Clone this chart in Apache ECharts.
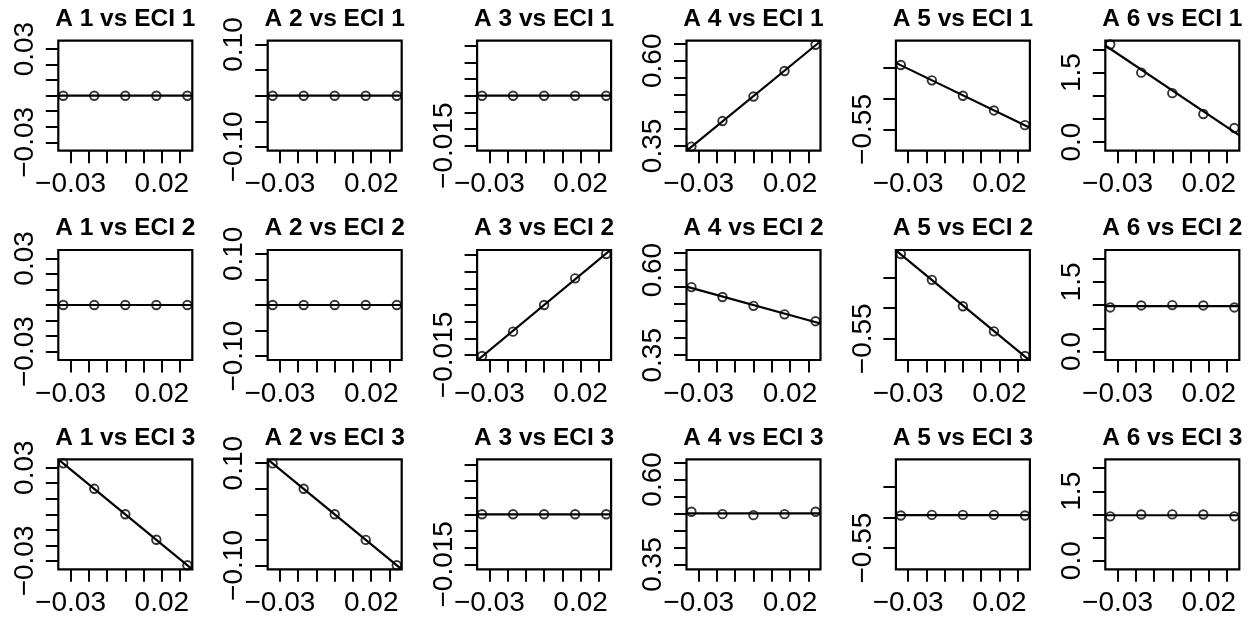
<!DOCTYPE html>
<html>
<head>
<meta charset="utf-8">
<script src="https://cdn.jsdelivr.net/npm/echarts@6/dist/echarts.min.js"></script>
<style>
html,body{margin:0;padding:0;background:#fff;}
#chart{width:1256px;height:620px;}
</style>
</head>
<body>
<div id="chart"></div>
<script>
// ---- data ----
const xValues = [-0.034, -0.017, 0, 0.017, 0.034];

const A1_ECI1 = [0, 0, 0, 0, 0];
const A1_ECI2 = [0, 0, 0, 0, 0];
const A1_ECI3 = [0.0328, 0.0164, 0, -0.0164, -0.0328];

const A2_ECI1 = [0, 0, 0, 0, 0];
const A2_ECI2 = [0, 0, 0, 0, 0];
const A2_ECI3 = [0.0995, 0.05, 0, -0.05, -0.0995];

const A3_ECI1 = [0, 0, 0, 0, 0];
const A3_ECI2 = [-0.0153, -0.0080, 0, 0.0080, 0.0153];
const A3_ECI3 = [0, 0, 0, 0, 0];

const A4_ECI1 = [0.348, 0.423, 0.495, 0.570, 0.647];
const A4_ECI2 = [0.550, 0.521, 0.495, 0.470, 0.450];
const A4_ECI3 = [0.505, 0.498, 0.495, 0.498, 0.505];

const A5_ECI1 = [-0.445, -0.470, -0.495, -0.519, -0.543];
const A5_ECI2 = [-0.412, -0.454, -0.497, -0.538, -0.578];
const A5_ECI3 = [-0.497, -0.496, -0.496, -0.496, -0.497];

const A6_ECI1 = [2.108, 1.500, 1.058, 0.608, 0.305];
const A6_ECI2 = [0.950, 0.993, 1.000, 0.993, 0.950];
const A6_ECI3 = [0.958, 0.998, 1.000, 0.998, 0.958];

// axis ticks
const xTicks = [-0.03, -0.02, -0.01, 0, 0.01, 0.02, 0.03];
const xTickLabels = [-0.03, 0.02];
const xLimits = [-0.0367, 0.0367];

const yTicksA1 = [-0.03, -0.02, -0.01, 0, 0.01, 0.02, 0.03];
const yTicksA2 = [-0.10, -0.05, 0, 0.05, 0.10];
const yTicksA3 = [-0.015, -0.010, -0.005, 0, 0.005, 0.010, 0.015];
const yTicksA4 = [0.35, 0.40, 0.45, 0.50, 0.55, 0.60, 0.65];
const yTicksA5 = [-0.55, -0.50, -0.45];
const yTicksA6 = [0, 0.5, 1.0, 1.5, 2.0];

const yLabelsA1 = [-0.03, 0.03];
const yLabelsA2 = [-0.10, 0.10];
const yLabelsA3 = [-0.015];
const yLabelsA4 = [0.35, 0.60];
const yLabelsA5 = [-0.55];
const yLabelsA6 = [0.0, 1.5];

const yLimitsA1 = [-0.0354, 0.0354];
const yLimitsA2 = [-0.1075, 0.1075];
const yLimitsA3 = [-0.0165, 0.0165];
const yLimitsA4 = [0.336, 0.659];
const yLimitsA5 = [-0.5846, -0.4054];
const yLimitsA6 = [-0.185, 2.19];

const yDecimals = [2, 2, 3, 2, 2, 1];

// ---- assembling ----
const panelData = [
  [A1_ECI1, A2_ECI1, A3_ECI1, A4_ECI1, A5_ECI1, A6_ECI1],
  [A1_ECI2, A2_ECI2, A3_ECI2, A4_ECI2, A5_ECI2, A6_ECI2],
  [A1_ECI3, A2_ECI3, A3_ECI3, A4_ECI3, A5_ECI3, A6_ECI3]
];
const yTicksByCol = [yTicksA1, yTicksA2, yTicksA3, yTicksA4, yTicksA5, yTicksA6];
const yLabelsByCol = [yLabelsA1, yLabelsA2, yLabelsA3, yLabelsA4, yLabelsA5, yLabelsA6];
const yLimitsByCol = [yLimitsA1, yLimitsA2, yLimitsA3, yLimitsA4, yLimitsA5, yLimitsA6];

const FONT = '"Liberation Sans", Arial, Helvetica, sans-serif';
function fmt(v, d) {
  const s = Math.abs(v).toFixed(d);
  return (v < -1e-12 ? '\u2212' : '') + s;
}
function fit(xs, ys) {
  const n = xs.length;
  const mx = xs.reduce((a, b) => a + b, 0) / n;
  const my = ys.reduce((a, b) => a + b, 0) / n;
  let sxy = 0, sxx = 0;
  for (let i = 0; i < n; i++) { sxy += (xs[i] - mx) * (ys[i] - my); sxx += (xs[i] - mx) ** 2; }
  const b = sxy / sxx;
  return { a: my - b * mx, b };
}

const colStep = 209.4, rowStep = 209.3;
const left0 = 58.3, top0 = 40.7, boxW = 134, boxH = 110;

const grids = [], xAxes = [], yAxes = [], series = [], titles = [];
let k = 0;
for (let r = 0; r < 3; r++) {
  for (let c = 0; c < 6; c++) {
    const L = left0 + c * colStep, T = top0 + r * rowStep;
    grids.push({ left: L, top: T, width: boxW, height: boxH, show: true,
      borderColor: '#000', borderWidth: 2.2, backgroundColor: 'transparent', containLabel: false });
    titles.push({ text: 'A ' + (c + 1) + ' vs ECI ' + (r + 1), left: L + boxW / 2, top: T - 34,
      textAlign: 'center', padding: 0,
      textStyle: { fontFamily: FONT, fontSize: 24.5, fontWeight: 'bold', color: '#000' } });
    xAxes.push({ type: 'value', gridIndex: k, min: xLimits[0], max: xLimits[1], position: 'bottom',
      axisLine: { show: false, onZero: false }, splitLine: { show: false },
      axisTick: { show: true, inside: false, length: 12.5, customValues: xTicks,
        lineStyle: { color: '#000', width: 2 } },
      axisLabel: { show: true, customValues: xTickLabels, margin: 20,
        formatter: v => fmt(v, 2), fontFamily: FONT, fontSize: 28, color: '#000' } });
    const d = yDecimals[c];
    yAxes.push({ type: 'value', gridIndex: k, min: yLimitsByCol[c][0], max: yLimitsByCol[c][1], position: 'left',
      axisLine: { show: false, onZero: false }, splitLine: { show: false },
      axisTick: { show: true, inside: false, length: 12.5, customValues: yTicksByCol[c],
        lineStyle: { color: '#000', width: 2 } },
      axisLabel: { show: true, customValues: yLabelsByCol[c], rotate: 90, margin: 19,
        formatter: v => fmt(v, d), fontFamily: FONT, fontSize: 28, color: '#000' } });
    const ys = panelData[r][c];
    const f = fit(xValues, ys);
    series.push({ type: 'line', xAxisIndex: k, yAxisIndex: k, symbol: 'none', silent: true,
      clip: true, lineStyle: { color: '#000', width: 2.2 },
      data: [[xLimits[0], f.a + f.b * xLimits[0]], [xLimits[1], f.a + f.b * xLimits[1]]] });
    series.push({ type: 'scatter', xAxisIndex: k, yAxisIndex: k, symbol: 'circle', symbolSize: 8.5,
      itemStyle: { color: 'rgba(0,0,0,0)', borderColor: '#000', borderWidth: 1.9 },
      data: xValues.map((x, i) => [x, ys[i]]) });
    k++;
  }
}

const chart = echarts.init(document.getElementById('chart'), null, { renderer: 'canvas' });
chart.setOption({
  animation: false,
  backgroundColor: '#fff',
  title: titles,
  grid: grids,
  xAxis: xAxes,
  yAxis: yAxes,
  series: series
});
</script>
</body>
</html>
